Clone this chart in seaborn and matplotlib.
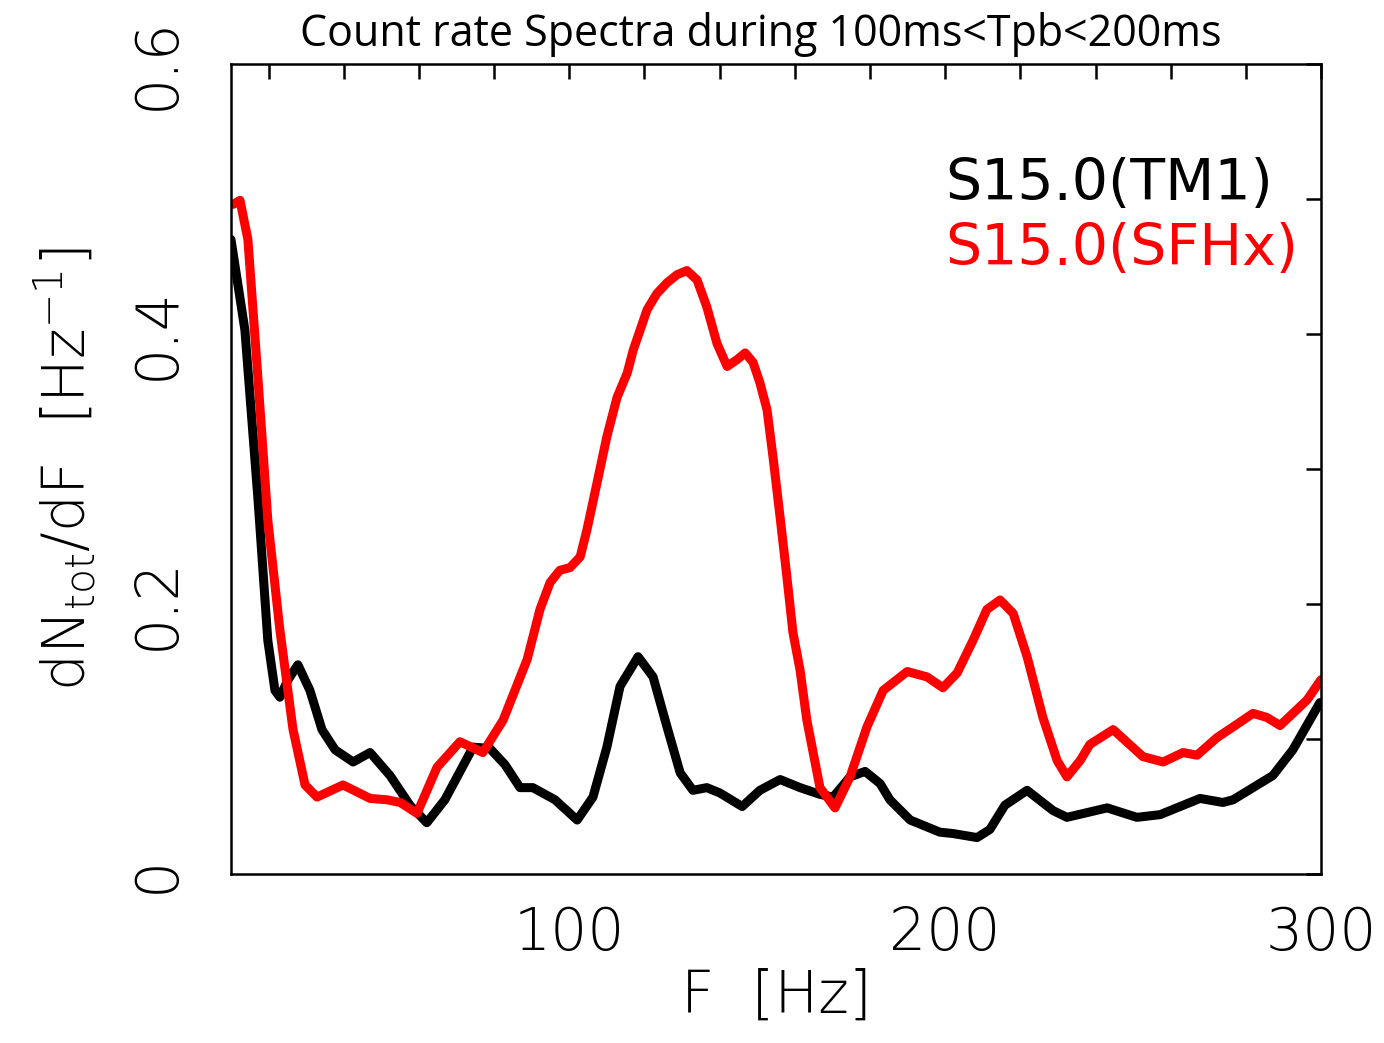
import matplotlib
matplotlib.use("Agg")
import matplotlib.pyplot as plt
import seaborn as sns
import pandas as pd

# S15.0(TM1) spectrum
f_tm1 = [10.0, 13.7, 17.2, 19.8, 21.7, 23.0, 25.2, 27.8, 31.0, 34.2, 37.7, 42.5, 47.0, 52.3,
         57.6, 62.1, 66.9, 74.4, 78.9, 82.9, 86.9, 90.3, 96.2, 102.1, 106.3, 110.0, 113.5,
         118.3, 122.3, 126.0, 129.5, 132.9, 136.6, 140.1, 146.0, 150.7, 156.1, 161.4, 166.7,
         170.2, 174.7, 178.7, 182.7, 185.3, 190.7, 198.6, 202.1, 208.5, 211.9, 215.9, 221.8,
         228.7, 232.4, 243.1, 251.0, 257.2, 267.8, 273.9, 276.6, 281.9, 287.2, 292.5, 299.7]
dn_tm1 = [0.470, 0.403, 0.277, 0.173, 0.136, 0.131, 0.144, 0.155, 0.136, 0.107, 0.092, 0.083,
          0.090, 0.073, 0.051, 0.038, 0.055, 0.094, 0.093, 0.081, 0.064, 0.064, 0.055, 0.040,
          0.057, 0.094, 0.139, 0.161, 0.146, 0.109, 0.075, 0.062, 0.064, 0.060, 0.050, 0.062,
          0.070, 0.064, 0.059, 0.057, 0.072, 0.076, 0.067, 0.055, 0.040, 0.031, 0.030, 0.027,
          0.033, 0.051, 0.062, 0.047, 0.042, 0.049, 0.042, 0.044, 0.056, 0.053, 0.055, 0.064,
          0.073, 0.092, 0.127]

# S15.0(SFHx) spectrum
f_sfhx = [10.5, 12.4, 14.5, 17.2, 19.8, 23.0, 26.5, 29.7, 32.9, 39.8, 47.0, 51.5, 55.0, 59.5,
          64.8, 70.9, 77.0, 82.4, 88.8, 92.2, 94.9, 97.5, 100.2, 102.9, 104.7, 107.4, 110.0,
          112.7, 115.4, 117.0, 120.7, 123.3, 126.0, 128.7, 131.3, 134.0, 136.6, 139.3, 142.0,
          144.6, 146.8, 148.9, 150.7, 152.6, 154.2, 156.1, 157.9, 159.5, 161.4, 163.2, 166.7,
          170.7, 174.7, 179.2, 183.5, 189.9, 195.2, 199.4, 203.2, 207.4, 211.1, 214.6, 218.1,
          221.8, 226.0, 229.8, 232.4, 235.9, 238.5, 244.7, 252.6, 258.0, 263.3, 267.0, 272.3,
          276.6, 281.9, 285.6, 289.1, 296.3, 300.0]
dn_sfhx = [0.496, 0.499, 0.470, 0.366, 0.262, 0.181, 0.107, 0.066, 0.057, 0.066, 0.056, 0.055,
           0.053, 0.045, 0.079, 0.098, 0.090, 0.114, 0.159, 0.196, 0.216, 0.225, 0.227, 0.235,
           0.255, 0.290, 0.324, 0.353, 0.371, 0.388, 0.418, 0.430, 0.438, 0.444, 0.447, 0.440,
           0.420, 0.393, 0.376, 0.381, 0.386, 0.379, 0.364, 0.344, 0.309, 0.264, 0.220, 0.179,
           0.151, 0.114, 0.064, 0.049, 0.072, 0.109, 0.136, 0.150, 0.146, 0.138, 0.149, 0.173,
           0.196, 0.203, 0.193, 0.161, 0.116, 0.084, 0.072, 0.084, 0.096, 0.107, 0.087, 0.083,
           0.090, 0.088, 0.101, 0.109, 0.119, 0.116, 0.110, 0.129, 0.144]

x_ticks = [100, 200, 300]
y_ticks = [0, 0.2, 0.4, 0.6]
y_tick_labels = ["0", "0.2", "0.4", "0.6"]

df_tm1 = pd.DataFrame({"F": f_tm1, "dN": dn_tm1})
df_sfhx = pd.DataFrame({"F": f_sfhx, "dN": dn_sfhx})

sns.set_style("white")
plt.rcParams["font.family"] = ["DejaVu Sans"]
plt.rcParams["mathtext.fontset"] = "custom"
plt.rcParams["mathtext.rm"] = "DejaVu Sans:weight=light"
plt.rcParams["mathtext.it"] = "DejaVu Sans:weight=light"

fig = plt.figure(figsize=(13.84, 10.43), dpi=100)
ax = fig.add_axes([0.1669, 0.162, 0.7876, 0.7766])

line_kw = dict(linewidth=6.5, solid_joinstyle="round", solid_capstyle="round", legend=False)
sns.lineplot(data=df_tm1, x="F", y="dN", color="black", ax=ax, **line_kw)
sns.lineplot(data=df_sfhx, x="F", y="dN", color="#ff0000", ax=ax, **line_kw)

ax.set_xlim(10, 300)
ax.set_ylim(0, 0.6)

for s in ax.spines.values():
    s.set_linewidth(1.8)
    s.set_color("black")

ax.set_xticks(x_ticks)
ax.set_xticks(list(range(20, 300, 20)), minor=True)
ax.set_yticks(y_ticks)
ax.set_yticklabels(y_tick_labels, rotation=90, va="center")
ax.set_yticks([0.1, 0.3, 0.5], minor=True)
ax.tick_params(which="both", direction="in", top=True, right=True, width=1.8,
               length=11, color="black")
ax.tick_params(axis="x", labelsize=42, pad=22, labelcolor="black")
ax.tick_params(axis="y", labelsize=42, pad=32, labelcolor="black")
for lab in ax.get_xticklabels() + ax.get_yticklabels():
    lab.set_fontweight("light")

ax.set_xlabel("F  [Hz]", fontsize=42, labelpad=4, fontweight="light", color="black")
ax.set_ylabel(r"dN$_{\rm tot}$/dF  [Hz$^{-1}$]", fontsize=42, labelpad=22,
              fontweight="light", color="black")

ax.text(0.655, 0.832, "S15.0(TM1)", transform=ax.transAxes, fontsize=41,
        color="black", va="baseline")
ax.text(0.655, 0.752, "S15.0(SFHx)", transform=ax.transAxes, fontsize=41,
        color="#ff0000", va="baseline")

fig.text(0.55, 0.956, "Count rate Spectra during 100ms<Tpb<200ms", ha="center",
         va="baseline", fontsize=31, color="black", family=["Open Sans", "DejaVu Sans"])

fig.savefig("out.png", dpi=100)
